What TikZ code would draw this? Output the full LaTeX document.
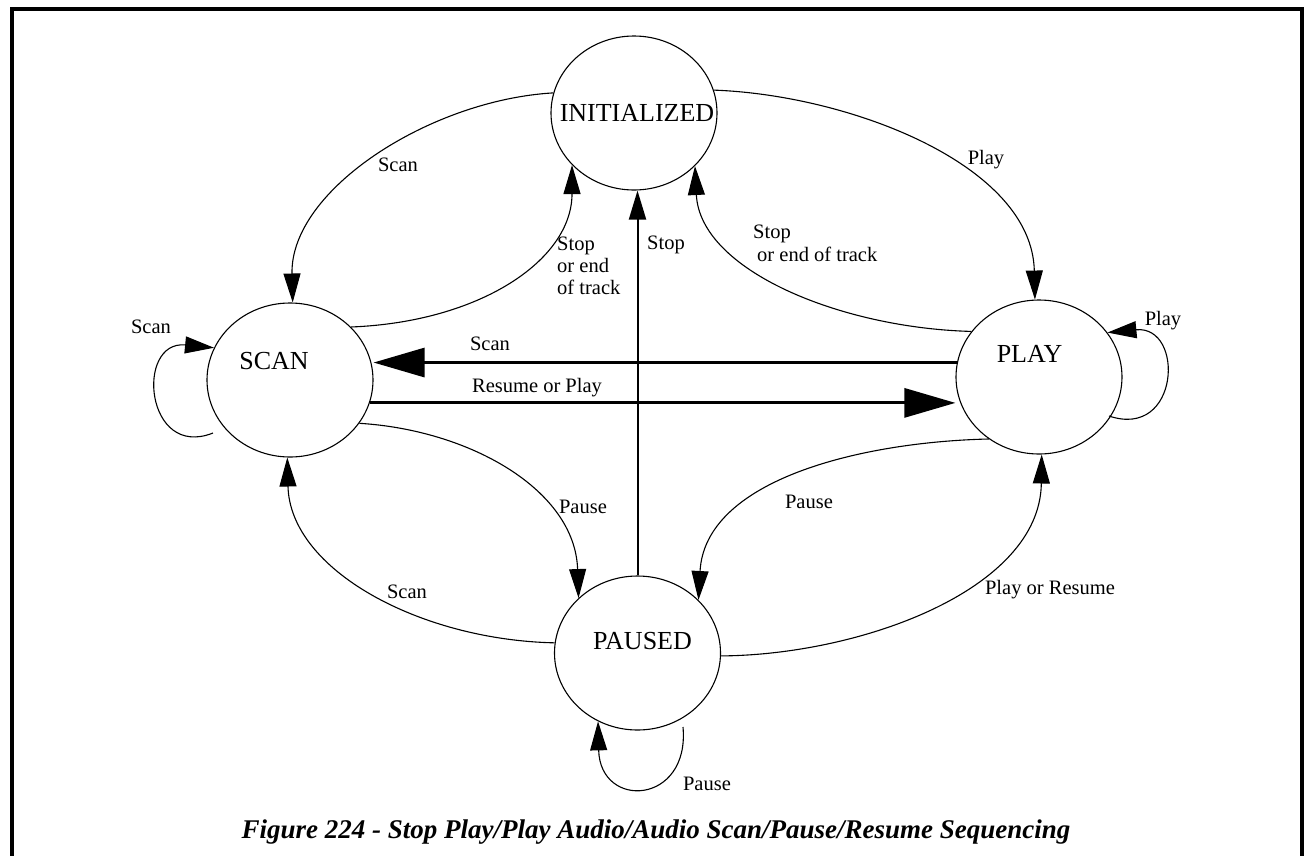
\documentclass[tikz,border=0pt]{standalone}
\usepackage{fontspec}
\setmainfont{Liberation Serif}
\usetikzlibrary{arrows.meta,shapes.geometric}
\begin{document}
\begin{tikzpicture}[x=1pt,y=-1pt,
  state/.style={draw,ellipse,minimum width=166pt,minimum height=154pt,inner sep=0pt,line width=1.1pt},
  statetxt/.style={font=\fontsize{26}{30}\selectfont,inner sep=0pt},
  edge/.style={line width=1.1pt,-{Triangle[length=29pt,width=17pt]}},
  stopedge/.style={line width=2pt,-{Triangle[length=29pt,width=17pt]}},
  thickedge/.style={line width=3pt,-{Triangle[length=51pt,width=29pt]}},
  elbl/.style={font=\fontsize{20.5}{22}\selectfont,inner sep=0pt,anchor=base},
  ]
\useasboundingbox (0,0) rectangle (1310,855);
\clip (0,0) rectangle (1310,855);
\draw[line width=4pt] (12,9) rectangle (1302,875);

\node[state,label={[statetxt,xshift=3pt]center:INITIALIZED}] (init) at (634,113) {};
\node[state,label={[statetxt,xshift=-16pt,yshift=19pt]center:SCAN}] (scan) at (290,380) {};
\node[state,label={[statetxt,xshift=-9.5pt,yshift=23pt]center:PLAY}] (play) at (1039,377) {};
\node[state,label={[statetxt,xshift=5pt,yshift=12pt]center:PAUSED}] (paused) at (637.5,653) {};

\draw[edge] (init.166) .. controls (430,100) and (290,190) .. (scan.88);
\draw[edge] (scan.41) .. controls (480,322) and (572,260) .. (init.220);
\draw[edge] (init.16) .. controls (850,95) and (1032,165) .. (play.93);
\draw[edge] (play.146) .. controls (840,328) and (700,270) .. (init.319);
\draw[stopedge] (paused.north) -- (paused.north |- init.south);
\draw[thickedge] (play.170) -- (play.170 -| scan.east);
\draw[thickedge] (scan.344) -- (scan.344 -| play.west);
\draw[edge] (scan.328) .. controls (470,430) and (575,490) .. (paused.137);
\draw[edge] (play.231) .. controls (860,442) and (705,480) .. (paused.41);
\draw[edge] (paused.173) .. controls (420,640) and (290,570) .. (scan.268);
\draw[edge] (paused.358) .. controls (860,655) and (1040,590) .. (play.272);

\coordinate (scanloop) at (213,433);
\draw[edge] (scanloop) .. controls (145,460) and (135,340) .. (scan.157);
\coordinate (playloop) at (1109,416);
\draw[edge] (playloop) .. controls (1180,440) and (1185,325) .. (play.33);
\coordinate (pausedloop) at (683,727);
\draw[edge] (pausedloop) .. controls (690,805) and (600,810) .. (paused.240);

\node[elbl] (l1) at (398,171) {Scan};
\node[elbl,align=left,anchor=base west] (l2) at (557,294) {Stop\\or end\\of track};
\node[elbl,anchor=base west] (l3) at (647,249) {Stop};
\node[elbl,align=left,anchor=base west] (l4) at (753,261) {Stop\\[1pt]\hspace*{4pt}or end of track};
\node[elbl] (l5) at (986,164) {Play};
\node[elbl] (l6) at (490,350) {Scan};
\node[elbl] (l7) at (537,392) {Resume or Play};
\node[elbl] (l8) at (583,513) {Pause};
\node[elbl] (l9) at (809,508) {Pause};
\node[elbl] (l10) at (407,598) {Scan};
\node[elbl] (l11) at (1050,594) {Play or Resume};
\node[elbl] (l12) at (151,333) {Scan};
\node[elbl] (l13) at (1163,325) {Play};
\node[elbl] (l14) at (707,790) {Pause};

\node[anchor=base,inner sep=0pt,font=\fontsize{27}{30}\selectfont\bfseries\itshape] (cap) at (656,838) {Figure 224 - Stop Play/Play Audio/Audio Scan/Pause/Resume Sequencing};
\end{tikzpicture}
\end{document}
